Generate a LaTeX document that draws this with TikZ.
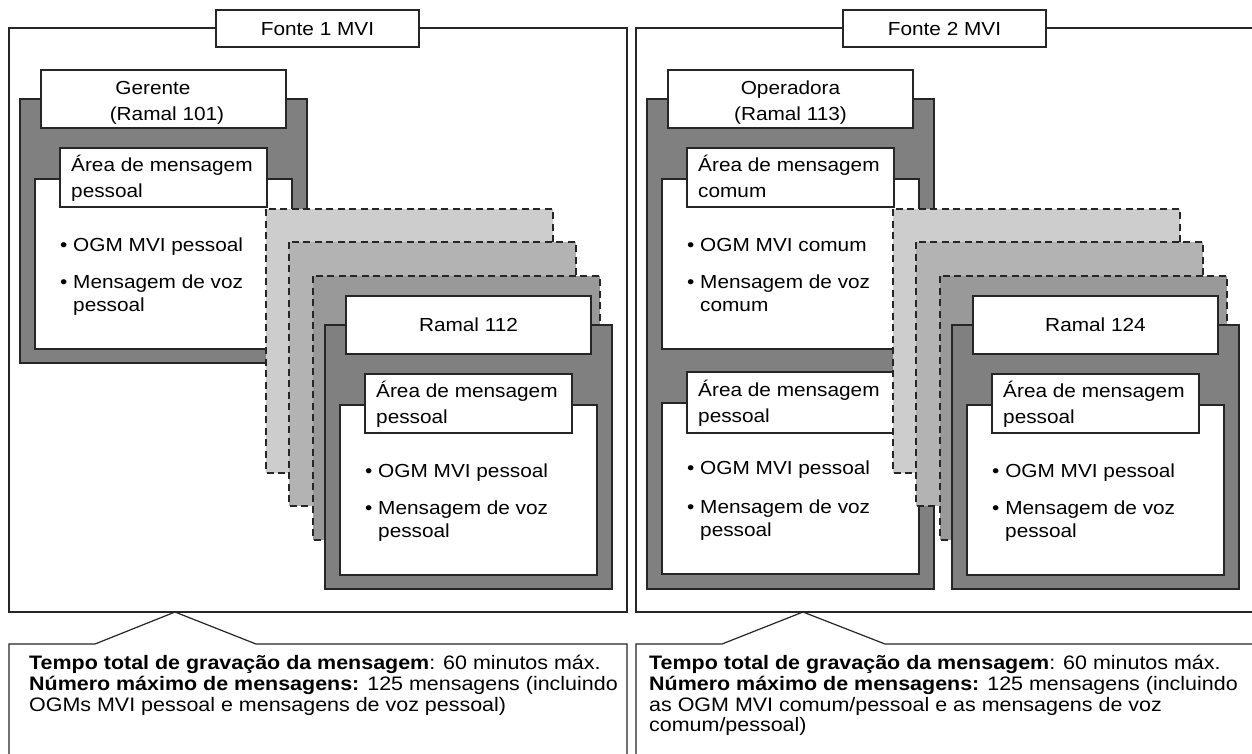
\documentclass[tikz,border=0pt]{standalone}
\usepackage{fontspec}
\setmainfont{Liberation Sans}[FakeStretch=1.1]
\definecolor{linec}{HTML}{262626}
\definecolor{darkg}{HTML}{808080}
\definecolor{lay1}{HTML}{CDCDCD}
\definecolor{lay2}{HTML}{B3B3B3}
\definecolor{lay3}{HTML}{999999}
\newcommand\dfont{\fontsize{18.9pt}{20pt}\selectfont}
\newcommand\cfont{\fontsize{19.5pt}{21pt}\selectfont}
\tikzset{
  box/.style={draw=linec, line width=1.2pt},
  darkbox/.style={box, fill=darkg},
  whitebox/.style={box, fill=white},
  panel/.style={draw=linec, line width=1.2pt},
  layerbox/.style={draw=linec, line width=1.1pt, dash pattern=on 7pt off 4.5pt},
  txt/.style={anchor=base west, inner sep=0pt, font=\dfont},
  ctxt/.style={anchor=base, inner sep=0pt, font=\dfont},
  calltxt/.style={anchor=base west, inner sep=0pt, font=\cfont},
}
\begin{document}
\begin{tikzpicture}[x=1pt,y=-1pt]
\useasboundingbox (0,0) rectangle (1252,753);
\clip (0,0) rectangle (1252,753);
\fill[white] (0,0) rectangle (1252,753);

% ===== Left panel =====
\draw[panel] (9,28) rectangle (627,612);
\draw[whitebox] (216,10) rectangle (419,47);
\node[ctxt] (f1) at (317.5,35) {Fonte 1 MVI};

% Gerente group
\begin{scope}[shift={(20,99)}]
  \draw[darkbox] (0,0) rectangle (287,264);
  \draw[whitebox] (21,-29) rectangle (266,29);
  \node[ctxt] (g1) at (133,-5) {Gerente};
  \node[ctxt] (g2) at (147,21) {(Ramal 101)};
  \draw[whitebox] (15,80) rectangle (272,250);
  \draw[whitebox] (40,49) rectangle (247,108);
  \node[txt] (ga1) at (51,72) {Área de mensagem};
  \node[txt] (ga2) at (51,98) {pessoal};
  \node[txt] (gb1) at (40,152) {• OGM MVI pessoal};
  \node[txt] (gb2) at (40,189) {• Mensagem de voz};
  \node[txt] (gb3) at (53,212) {pessoal};
\end{scope}

% stacked layers
\draw[layerbox, fill=lay1] (266,209) rectangle (553,473);
\draw[layerbox, fill=lay2] (289,242) rectangle (576,506);
\draw[layerbox, fill=lay3] (313,276) rectangle (600,540);

% Ramal 112 group
\begin{scope}[shift={(325,325)}]
  \draw[darkbox] (0,0) rectangle (287,264);
  \draw[whitebox] (21,-29) rectangle (266,29);
  \node[ctxt] (r1) at (143.5,6.5) {Ramal 112};
  \draw[whitebox] (15,80) rectangle (272,250);
  \draw[whitebox] (40,49) rectangle (247,108);
  \node[txt] (ra1) at (51,72) {Área de mensagem};
  \node[txt] (ra2) at (51,98) {pessoal};
  \node[txt] (rb1) at (40,152) {• OGM MVI pessoal};
  \node[txt] (rb2) at (40,189) {• Mensagem de voz};
  \node[txt] (rb3) at (53,212) {pessoal};
\end{scope}

% ===== Right panel =====
\draw[panel] (636,28) rectangle (1275,612);
\draw[whitebox] (843,10) rectangle (1046,47);
\node[ctxt] (f2) at (944.5,35) {Fonte 2 MVI};

% Operadora group
\begin{scope}[shift={(647,99)}]
  \draw[darkbox] (0,0) rectangle (287,490);
  \draw[whitebox] (21,-29) rectangle (266,29);
  \node[ctxt] (o1) at (143.5,-5) {Operadora};
  \node[ctxt] (o2) at (143.5,21) {(Ramal 113)};
  \draw[whitebox] (15,80) rectangle (272,250);
  \draw[whitebox] (40,49) rectangle (247,108);
  \node[txt] (oa1) at (51,72) {Área de mensagem};
  \node[txt] (oa2) at (51,98) {comum};
  \node[txt] (ob1) at (40,152) {• OGM MVI comum};
  \node[txt] (ob2) at (40,189) {• Mensagem de voz};
  \node[txt] (ob3) at (53,212) {comum};
  \draw[whitebox] (15,304) rectangle (272,475);
  \draw[whitebox] (40,273) rectangle (247,334);
  \node[txt] (oc1) at (51,297) {Área de mensagem};
  \node[txt] (oc2) at (51,323) {pessoal};
  \node[txt] (od1) at (40,375) {• OGM MVI pessoal};
  \node[txt] (od2) at (40,414) {• Mensagem de voz};
  \node[txt] (od3) at (53,437) {pessoal};
\end{scope}

% stacked layers
\draw[layerbox, fill=lay1] (893,209) rectangle (1180,473);
\draw[layerbox, fill=lay2] (916,242) rectangle (1203,506);
\draw[layerbox, fill=lay3] (940,276) rectangle (1227,540);

% Ramal 124 group
\begin{scope}[shift={(952,325)}]
  \draw[darkbox] (0,0) rectangle (287,264);
  \draw[whitebox] (21,-29) rectangle (266,29);
  \node[ctxt] (s1) at (143.5,6.5) {Ramal 124};
  \draw[whitebox] (15,80) rectangle (272,250);
  \draw[whitebox] (40,49) rectangle (247,108);
  \node[txt] (sa1) at (51,72) {Área de mensagem};
  \node[txt] (sa2) at (51,98) {pessoal};
  \node[txt] (sb1) at (40,152) {• OGM MVI pessoal};
  \node[txt] (sb2) at (40,189) {• Mensagem de voz};
  \node[txt] (sb3) at (53,212) {pessoal};
\end{scope}

% ===== Callouts =====
\coordinate (lp1) at (95,644);
\coordinate (lpa) at (175,612);
\coordinate (lp2) at (256,644);
\draw[panel, fill=white] (9,790) -- (9,644) -- (lp1) -- (lpa) -- (lp2) -- (627,644) -- (627,790);
\node[calltxt] (lc1) at (29,669) {\textbf{Tempo total de gravação da mensagem}: 60 minutos máx.};
\node[calltxt] (lc2) at (29,690) {\textbf{Número máximo de mensagens:} 125 mensagens (incluindo};
\node[calltxt] (lc3) at (29,711) {OGMs MVI pessoal e mensagens de voz pessoal)};

\coordinate (rp1) at (722,644);
\coordinate (rpa) at (803,612);
\coordinate (rp2) at (885,644);
\draw[panel, fill=white] (636,790) -- (636,644) -- (rp1) -- (rpa) -- (rp2) -- (1275,644);
\node[calltxt] (rc1) at (649,669) {\textbf{Tempo total de gravação da mensagem}: 60 minutos máx.};
\node[calltxt] (rc2) at (649,690) {\textbf{Número máximo de mensagens:} 125 mensagens (incluindo};
\node[calltxt] (rc3) at (649,711) {as OGM MVI comum/pessoal e as mensagens de voz};
\node[calltxt] (rc4) at (649,731.5) {comum/pessoal)};
\end{tikzpicture}
\end{document}
